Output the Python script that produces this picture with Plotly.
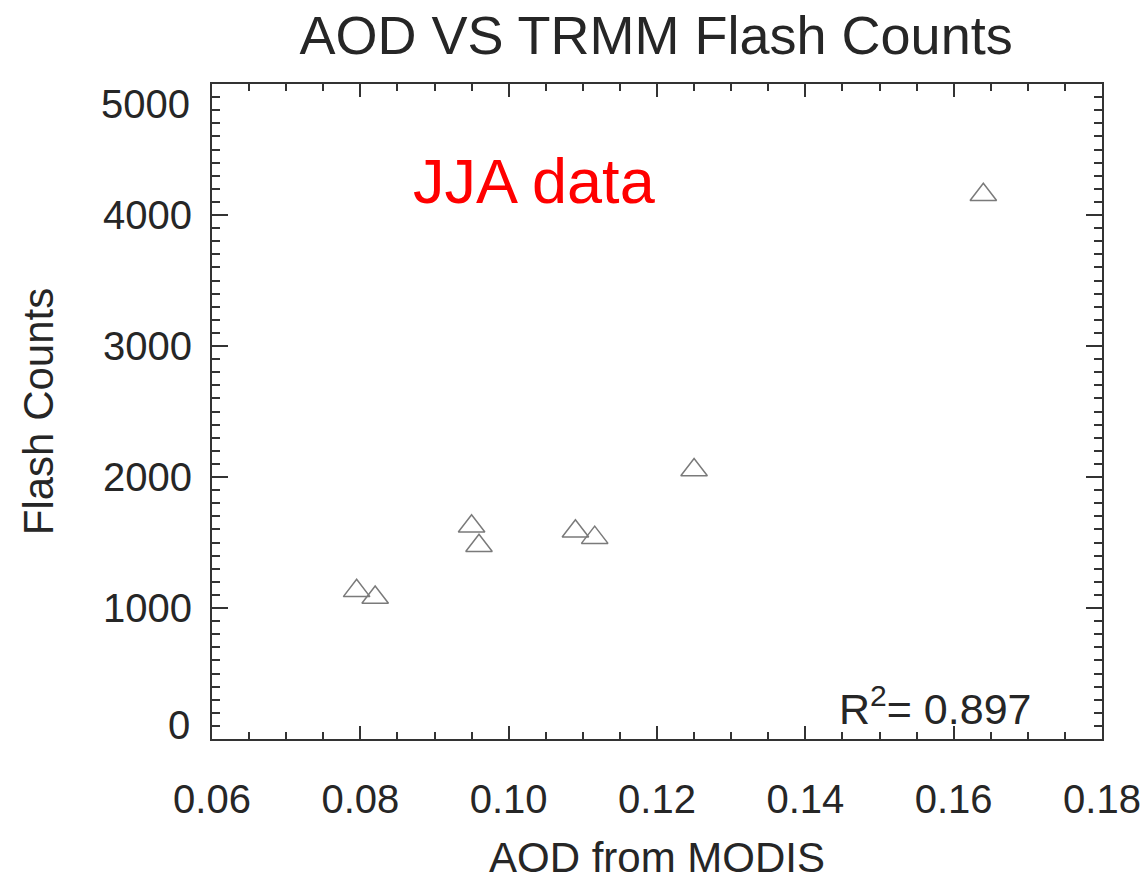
import plotly.graph_objects as go

# Data
aod = [0.0795, 0.0820, 0.0950, 0.0960, 0.1090, 0.1116, 0.1250, 0.1640]
flash_counts = [1131, 1080, 1624, 1475, 1586, 1537, 2053, 4155]

x_tickvals = [0.06, 0.08, 0.10, 0.12, 0.14, 0.16, 0.18]
x_ticktext = ["0.06", "0.08", "0.10", "0.12", "0.14", "0.16", "0.18"]
y_tickvals = [1000, 2000, 3000, 4000]
y_ticktext = ["1000", "2000", "3000", "4000"]
y_edge_vals = [0, 5000]
y_edge_text = ["0", "5000"]
y_edge_shift = [14, -20]

title_text = "AOD VS TRMM Flash Counts"
x_title = "AOD from MODIS"
y_title = "Flash Counts"
season_label = "JJA data"
r2_label = "R<sup>2</sup>= 0.897"

FONT = "Liberation Sans, Arial, Helvetica, sans-serif"
AX = "#333333"
TXT = "#262626"

fig = go.Figure()
fig.add_trace(go.Scatter(
    x=aod, y=flash_counts, mode="markers",
    marker=dict(symbol="triangle-up-open", size=23, color="#7a7a7a",
                line=dict(width=1.5, color="#7a7a7a")),
    showlegend=False, hoverinfo="x+y",
))

fig.update_layout(
    width=1148, height=881,
    margin=dict(l=212, r=46, t=84, b=142, autoexpand=False),
    paper_bgcolor="white", plot_bgcolor="white",
    font=dict(family=FONT, color=TXT),
    title=dict(text=title_text, x=0.5715, xanchor="center", y=0.96, yanchor="middle",
               font=dict(size=54, color=TXT), automargin=False),
)

fig.update_xaxes(
    range=[0.06, 0.18], showgrid=False, zeroline=False, automargin=False,
    showline=True, linecolor=AX, linewidth=2, mirror="ticks",
    ticks="inside", ticklen=13, tickwidth=2, tickcolor=AX,
    tickvals=x_tickvals, ticktext=x_ticktext,
    tickfont=dict(size=40, color=TXT), ticklabelstandoff=24,
    minor=dict(ticks="inside", dtick=0.005, ticklen=7, tickwidth=2, tickcolor=AX, showgrid=False),
    title=dict(text=x_title, font=dict(size=42, color=TXT), standoff=24),
)
fig.update_yaxes(
    range=[0, 5000], showgrid=False, zeroline=False, automargin=False,
    showline=True, linecolor=AX, linewidth=2, mirror="ticks",
    ticks="inside", ticklen=16, tickwidth=2, tickcolor=AX,
    tickvals=y_tickvals, ticktext=y_ticktext,
    tickfont=dict(size=40, color=TXT), ticklabelstandoff=10,
    minor=dict(ticks="inside", dtick=100, ticklen=8, tickwidth=2, tickcolor=AX, showgrid=False),
    title=dict(text=y_title, font=dict(size=42, color=TXT), standoff=36),
)

annotations = []
for v, t, s in zip(y_edge_vals, y_edge_text, y_edge_shift):
    annotations.append(dict(x=0, xref="paper", xanchor="right", xshift=-20,
                            y=v, yref="y", yanchor="middle", yshift=s,
                            text=t, showarrow=False, font=dict(size=40, color=TXT)))
annotations.append(dict(x=0.0868, xref="x", xanchor="left",
                        y=4262, yref="y", yanchor="middle",
                        text=season_label, showarrow=False,
                        font=dict(size=63, color="#ff0000")))
annotations.append(dict(x=0.1707, xref="x", xanchor="right",
                        y=250, yref="y", yanchor="middle",
                        text=r2_label, showarrow=False,
                        font=dict(size=43, color=TXT)))
fig.update_layout(annotations=annotations)

fig.write_html("out.html", config={"displayModeBar": False},
               post_script="document.body.style.margin='0';")
